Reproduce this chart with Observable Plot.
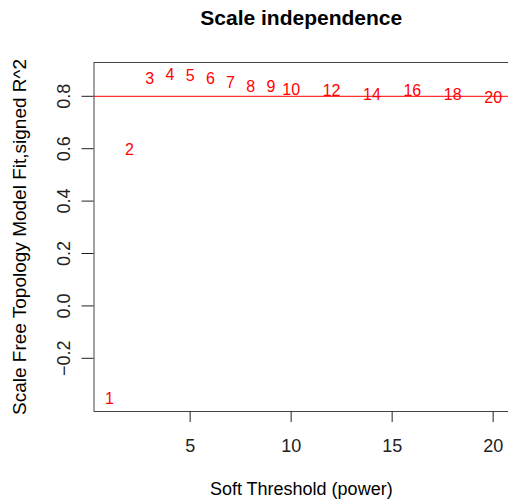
<!DOCTYPE html>
<html><head><meta charset="utf-8">
<script src="https://cdn.jsdelivr.net/npm/d3@7"></script>
<script src="https://cdn.jsdelivr.net/npm/@observablehq/plot@0.6"></script>
<style>
html,body{margin:0;padding:0;background:#fff;}
</style>
</head><body>
<div id="chart"></div>
<script>
const powers = [1,2,3,4,5,6,7,8,9,10,12,14,16,18,20];
const fitValues = [-0.354,0.594,0.868,0.880,0.878,0.868,0.852,0.836,0.836,0.823,0.820,0.804,0.820,0.804,0.794];
const xTicks = [5,10,15,20];
const yTicks = [-0.2,0.0,0.2,0.4,0.6,0.8];
const cutoff = 0.8;
const titleText = "Scale independence";
const xLabel = "Soft Threshold (power)";
const yLabel = "Scale Free Topology Model Fit,signed R^2";

const data = powers.map((p,i)=>({power:p, fit:fitValues[i]}));
const font = "Liberation Sans, Arial, Helvetica, sans-serif";

const chart = Plot.plot({
  width: 508, height: 503,
  marginLeft: 93.5, marginRight: 0, marginTop: 62, marginBottom: 92,
  style: {fontFamily: font, fontSize: "14px", background: "#fff", color: "#222"},
  x: {domain: [0.24, 20.76]},
  y: {domain: [-0.403, 0.929]},
  marks: [
    Plot.frame({stroke: "#444", strokeWidth: 1}),
    Plot.axisX({ticks: xTicks, tickSize: 11, tickPadding: 17, tickFormat: d => String(d), fontSize: 18, label: null}),
    Plot.axisY({ticks: yTicks, tickSize: 12, tickRotate: -90, tickPadding: 12, tickFormat: d => d.toFixed(1).replace("-", "\u2212"), fontSize: 18, label: null}),
    Plot.ruleY([cutoff], {stroke: "#ff0000", strokeWidth: 1}),
    Plot.text(data, {x: "power", y: "fit", text: d => String(d.power), fill: "#ff0000", fontSize: 16}),
    Plot.text([titleText], {frameAnchor: "top", lineAnchor: "middle", dy: -44.5, fontSize: 21, fontWeight: "bold", fill: "#000"}),
    Plot.text([xLabel], {frameAnchor: "bottom", lineAnchor: "middle", dy: 78, fontSize: 18, fill: "#000"}),
    Plot.text([yLabel], {frameAnchor: "left", textAnchor: "middle", lineAnchor: "middle", dx: -74, rotate: -90, fontSize: 19, fill: "#000"})
  ]
});
document.getElementById("chart").appendChild(chart);
</script>
</body></html>
